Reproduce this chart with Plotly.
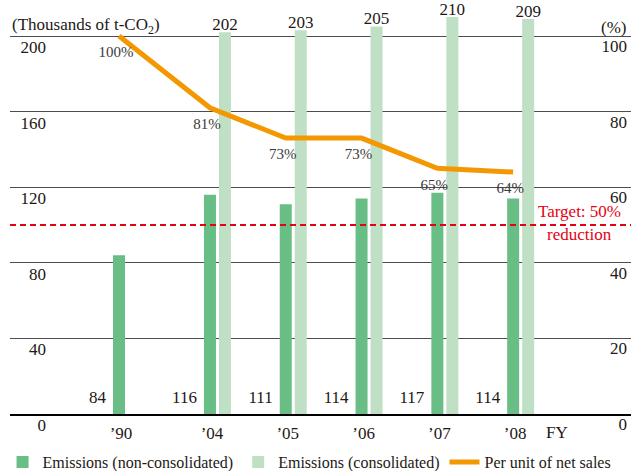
import plotly.graph_objects as go

# ---- data ----
years = ["’90", "’04", "’05", "’06", "’07", "’08"]
non_consolidated = [84, 116, 111, 114, 117, 114]
consolidated = [None, 202, 203, 205, 210, 209]
per_unit_pct = [100, 81, 73, 73, 65, 64]
pct_labels = ["100%", "81%", "73%", "73%", "65%", "64%"]
target_pct = 50
left_ticks = [0, 40, 80, 120, 160, 200]
right_ticks = [0, 20, 40, 60, 80, 100]

# ---- layout constants ----
W, H = 631, 471
ML, MR, MT = 10, 0, 0
BASE = 414                                   # pixel row of the baseline
plot_w = W - ML - MR
plot_h = BASE - MT
MB = H - MT - plot_h
px_per_unit = 75.8
xpos = [0, 1.2, 2.2, 3.2, 4.2, 5.2]          # category slots (year gap before '04)
x_left = -(119 - ML) / px_per_unit
x_right = x_left + plot_w / px_per_unit
px_per_val = 1.89
y_top = plot_h / px_per_val
bw = 12 / px_per_unit
gap = 3 / px_per_unit


def px_x(rx):
    return (rx - ML) / plot_w


def px_y(ry):
    return (BASE - ry) / plot_h


FONT = "Liberation Serif"
TXT = "#231815"
DARK = "#68BE84"
LIGHT = "#C0E0C5"
ORANGE = "#F39800"
RED = "#E60012"

fig = go.Figure()

fig.add_trace(go.Bar(
    x=xpos, y=non_consolidated, width=bw, offset=-bw / 2,
    marker=dict(color=DARK, line=dict(width=0)),
    name="Emissions (non-consolidated)", yaxis="y",
))
fig.add_trace(go.Bar(
    x=xpos, y=consolidated, width=bw, offset=bw / 2 + gap,
    marker=dict(color=LIGHT, line=dict(width=0)),
    name="Emissions (consolidated)", yaxis="y",
))
# value labels above the consolidated bars (nudged 2px down)
cons_x = [p + bw + gap for p, v in zip(xpos, consolidated) if v is not None]
cons_v = [v for v in consolidated if v is not None]
fig.add_trace(go.Scatter(
    x=cons_x, y=[v - 2 / px_per_val for v in cons_v], mode="text",
    text=[str(v) for v in cons_v],
    textposition="top center", textfont=dict(family=FONT, size=17, color=TXT),
    showlegend=False, hoverinfo="skip", cliponaxis=False,
))
# value labels for non-consolidated bars (left of bar, near the base)
fig.add_trace(go.Scatter(
    x=[p - bw / 2 - 7 / px_per_unit for p in xpos], y=[8] * len(xpos),
    mode="text", text=[str(v) for v in non_consolidated],
    textposition="middle left", textfont=dict(family=FONT, size=17, color=TXT),
    showlegend=False, hoverinfo="skip", cliponaxis=False,
))
fig.add_trace(go.Scatter(
    x=xpos, y=per_unit_pct, mode="lines",
    line=dict(color=ORANGE, width=5),
    name="Per unit of net sales", yaxis="y2",
))
drop = 10 / px_per_val / 2   # push the % labels 10px further below their points
fig.add_trace(go.Scatter(
    x=[p - 3 / px_per_unit for p in xpos], y=[v - drop for v in per_unit_pct],
    mode="text", text=pct_labels, textposition="bottom center",
    textfont=dict(family=FONT, size=15, color="#3a3a3a"),
    showlegend=False, hoverinfo="skip", yaxis="y2", cliponaxis=False,
))

# target line
fig.add_shape(type="line", xref="paper", x0=0, x1=1, yref="y2",
              y0=target_pct, y1=target_pct,
              line=dict(color=RED, width=2, dash="6px,4px"))

anns = [
    dict(text="Target: 50%", xref="paper", x=px_x(579), xanchor="center", yref="y2",
         y=target_pct, yshift=14, showarrow=False,
         font=dict(family=FONT, size=17, color=RED)),
    dict(text="reduction", xref="paper", x=px_x(579), xanchor="center", yref="y2",
         y=target_pct, yshift=-9, showarrow=False,
         font=dict(family=FONT, size=17, color=RED)),
    dict(text="(Thousands of t-CO<sub>2</sub>)", xref="paper", x=0, xanchor="left",
         yref="paper", y=px_y(26), yanchor="middle", showarrow=False,
         font=dict(family=FONT, size=17, color=TXT)),
    dict(text="(%)", xref="paper", x=px_x(628), xanchor="right",
         yref="paper", y=px_y(28), yanchor="middle", showarrow=False,
         font=dict(family=FONT, size=17, color=TXT)),
    dict(text="FY", xref="paper", x=px_x(557), xanchor="center",
         yref="paper", y=px_y(432), yanchor="middle", showarrow=False,
         font=dict(family=FONT, size=17, color=TXT)),
]

fig.update_layout(
    width=W, height=H,
    margin=dict(l=ML, r=MR, t=MT, b=MB, autoexpand=False),
    paper_bgcolor="white", plot_bgcolor="white",
    font=dict(family=FONT, size=17, color=TXT),
    barmode="overlay",
    annotations=anns,
    xaxis=dict(
        range=[x_left, x_right], tickvals=[p + 2 / px_per_unit for p in xpos],
        ticktext=years, showgrid=False, zeroline=False,
        showline=True, linecolor="black", linewidth=1.5,
        ticks="", ticklabelstandoff=3, automargin=False,
        tickfont=dict(family=FONT, size=17, color=TXT),
    ),
    yaxis=dict(
        range=[0, y_top], tickvals=left_ticks, anchor="free",
        position=px_x(46), automargin=False,
        showgrid=True, gridcolor="#4d4d4d", gridwidth=1,
        zeroline=False, showline=False, ticks="",
        ticklabelshift=11, ticklabelstandoff=0,
        tickfont=dict(family=FONT, size=17, color=TXT),
    ),
    yaxis2=dict(
        range=[0, y_top / 2], tickvals=right_ticks, overlaying="y", side="left",
        anchor="free", position=px_x(627),
        showgrid=False, zeroline=False, showline=False, ticks="",
        automargin=False, ticklabelshift=10, ticklabelstandoff=0,
        tickfont=dict(family=FONT, size=17, color=TXT),
    ),
    legend=dict(
        orientation="h", x=-0.012, xanchor="left", y=px_y(462),
        yanchor="middle", font=dict(family=FONT, size=16, color=TXT),
        itemwidth=30, tracegroupgap=0, bgcolor="rgba(0,0,0,0)",
    ),
)

fig.write_html("out.html", config={"displayModeBar": False},
               post_script="document.body.style.margin='0px';")
